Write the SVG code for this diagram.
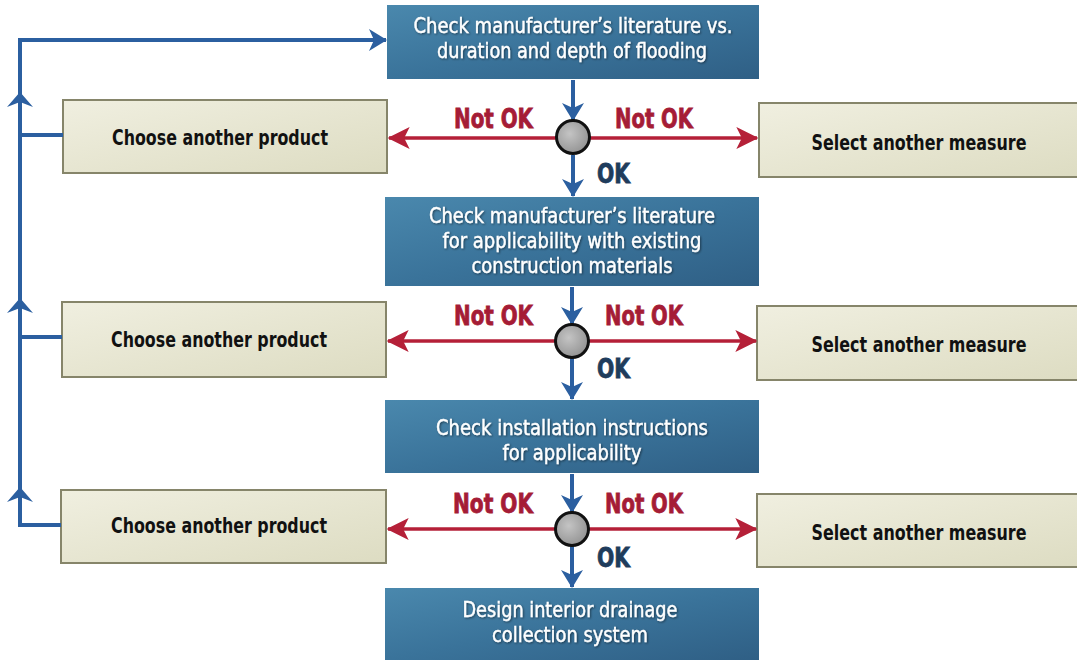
<svg xmlns="http://www.w3.org/2000/svg" width="1077" height="661" viewBox="0 0 1077 661">
  <defs>
    <linearGradient id="stepFill" x1="0" y1="0" x2="1" y2="1">
      <stop offset="0" stop-color="#4a88ad"/>
      <stop offset="0.5" stop-color="#3a739a"/>
      <stop offset="1" stop-color="#2f5f85"/>
    </linearGradient>
    <linearGradient id="altFill" x1="0" y1="0" x2="1" y2="1">
      <stop offset="0" stop-color="#f0efe0"/>
      <stop offset="1" stop-color="#dddcc2"/>
    </linearGradient>
    <radialGradient id="knob" cx="0.4" cy="0.4" r="0.7">
      <stop offset="0" stop-color="#c4c4c4"/>
      <stop offset="1" stop-color="#8e8e8e"/>
    </radialGradient>
    <marker id="blueHead" viewBox="0 0 18 22" refX="17" refY="11" markerWidth="4.5" markerHeight="5.5" orient="auto" markerUnits="strokeWidth">
      <path d="M0,0 L18,11 L0,22 L5,11 Z" fill="#2b5fa0"/>
    </marker>
    <marker id="redHead" viewBox="0 0 16 16" refX="15" refY="8" markerWidth="6.3" markerHeight="6.3" orient="auto" markerUnits="strokeWidth">
      <path d="M0,0 L16,8 L0,16 L4,8 Z" fill="#b52038"/>
    </marker>
    <filter id="shadow" x="-5%" y="-20%" width="110%" height="140%">
      <feDropShadow dx="1" dy="1" stdDeviation="0.8" flood-color="#000" flood-opacity="0.5"/>
    </filter>
  </defs>
  <style>
    .step { fill: url(#stepFill); }
    .alt { fill: url(#altFill); stroke: #86856a; stroke-width: 2; }
    .stepText { font-family: "DejaVu Sans Condensed", "DejaVu Sans", sans-serif; font-stretch: condensed; font-size: 20.5px; fill: #ffffff; stroke: #ffffff; stroke-width: 0.35; text-anchor: middle; filter: url(#shadow); }
    .altText { font-family: "DejaVu Sans Condensed", "DejaVu Sans", sans-serif; font-stretch: condensed; font-weight: bold; font-size: 21px; fill: #111111; text-anchor: middle; }
    .no { font-family: "DejaVu Sans Condensed", "DejaVu Sans", sans-serif; font-stretch: condensed; font-weight: bold; font-size: 27px; fill: #a51c36; stroke: #a51c36; stroke-width: 0.8; }
    .yes { font-family: "DejaVu Sans Condensed", "DejaVu Sans", sans-serif; font-stretch: condensed; font-weight: bold; font-size: 27px; fill: #1f3c5c; stroke: #1f3c5c; stroke-width: 0.8; }
    .flow { stroke: #2b5fa0; stroke-width: 4; fill: none; }
    .reject { stroke: #b52038; stroke-width: 3.5; fill: none; }
    .junction { fill: url(#knob); stroke: #111111; stroke-width: 3; }
  </style>

  <rect width="1077" height="661" fill="#ffffff"/>

  <!-- main sequence of checks -->
  <g id="step1">
    <rect class="step" x="387" y="5" width="372" height="74"/>
    <text class="stepText" x="573" y="33" textLength="319" lengthAdjust="spacingAndGlyphs">Check manufacturer’s literature vs.</text>
    <text class="stepText" x="572" y="58" textLength="270" lengthAdjust="spacingAndGlyphs">duration and depth of flooding</text>
  </g>
  <g id="step2">
    <rect class="step" x="385" y="197" width="374" height="89"/>
    <text class="stepText" x="572" y="223" textLength="286" lengthAdjust="spacingAndGlyphs">Check manufacturer’s literature</text>
    <text class="stepText" x="572" y="248" textLength="259" lengthAdjust="spacingAndGlyphs">for applicability with existing</text>
    <text class="stepText" x="572" y="273" textLength="201" lengthAdjust="spacingAndGlyphs">construction materials</text>
  </g>
  <g id="step3">
    <rect class="step" x="385" y="400" width="374" height="73"/>
    <text class="stepText" x="572" y="435" textLength="272" lengthAdjust="spacingAndGlyphs">Check installation instructions</text>
    <text class="stepText" x="572" y="460" textLength="139" lengthAdjust="spacingAndGlyphs">for applicability</text>
  </g>
  <g id="step4">
    <rect class="step" x="385" y="588" width="374" height="72"/>
    <text class="stepText" x="570" y="617" textLength="215" lengthAdjust="spacingAndGlyphs">Design interior drainage</text>
    <text class="stepText" x="570" y="642" textLength="156" lengthAdjust="spacingAndGlyphs">collection system</text>
  </g>

  <!-- alternatives on the left -->
  <g id="product1">
    <rect class="alt" x="63" y="100" width="324" height="73"/>
    <text class="altText" x="220" y="145" textLength="216" lengthAdjust="spacingAndGlyphs">Choose another product</text>
  </g>
  <g id="product2">
    <rect class="alt" x="62" y="302" width="324" height="75"/>
    <text class="altText" x="219" y="347" textLength="216" lengthAdjust="spacingAndGlyphs">Choose another product</text>
  </g>
  <g id="product3">
    <rect class="alt" x="61" y="490" width="325" height="73"/>
    <text class="altText" x="219" y="533" textLength="216" lengthAdjust="spacingAndGlyphs">Choose another product</text>
  </g>

  <!-- alternatives on the right -->
  <g id="measure1">
    <rect class="alt" x="759" y="103" width="322" height="74"/>
    <text class="altText" x="919" y="150" textLength="215" lengthAdjust="spacingAndGlyphs">Select another measure</text>
  </g>
  <g id="measure2">
    <rect class="alt" x="757" y="306" width="324" height="74"/>
    <text class="altText" x="919" y="352" textLength="215" lengthAdjust="spacingAndGlyphs">Select another measure</text>
  </g>
  <g id="measure3">
    <rect class="alt" x="757" y="494" width="324" height="73"/>
    <text class="altText" x="919" y="540" textLength="215" lengthAdjust="spacingAndGlyphs">Select another measure</text>
  </g>

  <g id="connectors">
    <!-- return loop on the left -->
    <path class="flow" d="M63,135 H20 M62,337 H20 M61,525 H20"/>
    <path class="flow" d="M20,527 V40 H386" marker-end="url(#blueHead)"/>
    <path d="M7,107 L20,92 L33,107 L20,102 Z M7,313 L20,298 L33,313 L20,308 Z M7,502 L20,487 L33,502 L20,497 Z" fill="#2b5fa0"/>

    <!-- decision 1 -->
    <line class="flow" x1="573" y1="80" x2="573" y2="120" marker-end="url(#blueHead)"/>
    <line class="flow" x1="573" y1="155" x2="573" y2="196" marker-end="url(#blueHead)"/>
    <line class="reject" x1="556" y1="138" x2="389" y2="138" marker-end="url(#redHead)"/>
    <line class="reject" x1="590" y1="138" x2="757" y2="138" marker-end="url(#redHead)"/>
    <circle class="junction" cx="573" cy="137" r="16.5"/>

    <!-- decision 2 -->
    <line class="flow" x1="572" y1="287" x2="572" y2="324" marker-end="url(#blueHead)"/>
    <line class="flow" x1="572" y1="358" x2="572" y2="399" marker-end="url(#blueHead)"/>
    <line class="reject" x1="555" y1="341" x2="388" y2="341" marker-end="url(#redHead)"/>
    <line class="reject" x1="589" y1="341" x2="756" y2="341" marker-end="url(#redHead)"/>
    <circle class="junction" cx="572" cy="341" r="16.5"/>

    <!-- decision 3 -->
    <line class="flow" x1="572" y1="474" x2="572" y2="512" marker-end="url(#blueHead)"/>
    <line class="flow" x1="572" y1="546" x2="572" y2="587" marker-end="url(#blueHead)"/>
    <line class="reject" x1="555" y1="529" x2="388" y2="529" marker-end="url(#redHead)"/>
    <line class="reject" x1="589" y1="529" x2="756" y2="529" marker-end="url(#redHead)"/>
    <circle class="junction" cx="572" cy="529" r="16.5"/>
  </g>

  <!-- decision labels -->
  <g id="labels">
    <text class="no" x="454" y="128" textLength="79" lengthAdjust="spacingAndGlyphs">Not OK</text>
    <text class="no" x="615" y="128" textLength="78" lengthAdjust="spacingAndGlyphs">Not OK</text>
    <text class="yes" x="597" y="183" textLength="33" lengthAdjust="spacingAndGlyphs">OK</text>
    <text class="no" x="454" y="325" textLength="79" lengthAdjust="spacingAndGlyphs">Not OK</text>
    <text class="no" x="605" y="325" textLength="78" lengthAdjust="spacingAndGlyphs">Not OK</text>
    <text class="yes" x="597" y="378" textLength="33" lengthAdjust="spacingAndGlyphs">OK</text>
    <text class="no" x="453" y="513" textLength="80" lengthAdjust="spacingAndGlyphs">Not OK</text>
    <text class="no" x="605" y="513" textLength="78" lengthAdjust="spacingAndGlyphs">Not OK</text>
    <text class="yes" x="597" y="567" textLength="33" lengthAdjust="spacingAndGlyphs">OK</text>
  </g>
</svg>
